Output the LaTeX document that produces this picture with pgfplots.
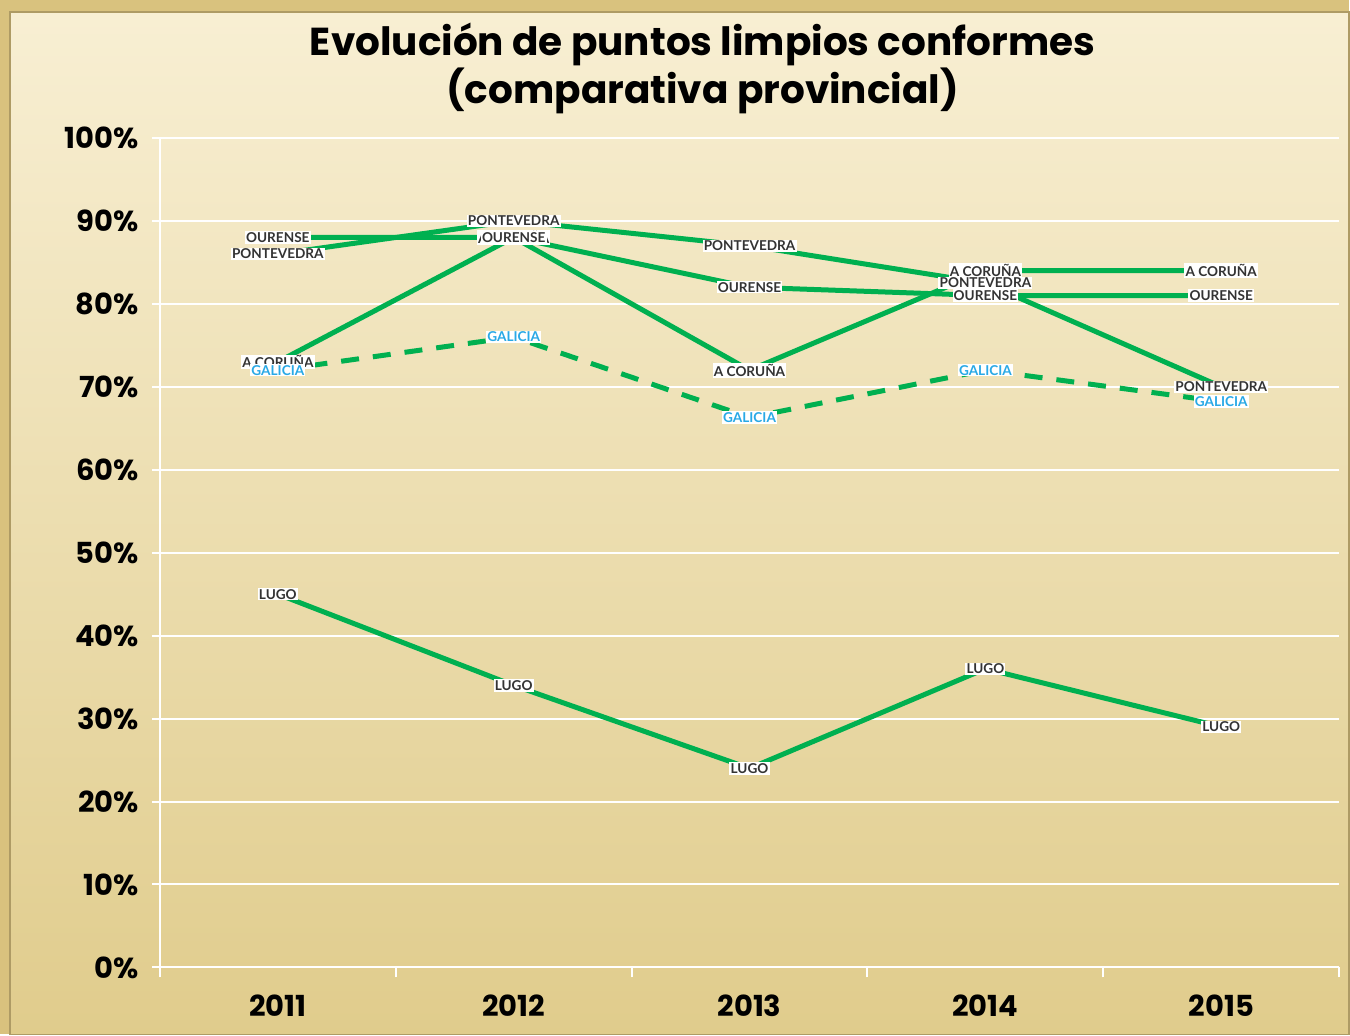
\documentclass[border=0pt]{standalone}
\usepackage{pgfplots}
\pgfplotsset{compat=1.18}
\usepackage{fontspec}
\setmainfont{Poppins}
\newfontfamily\lblfont{Lato}
\definecolor{linegreen}{HTML}{00B050}
\definecolor{galblue}{HTML}{29A9E6}
\definecolor{bgtop}{HTML}{F8EFD3}
\definecolor{bgbot}{HTML}{E0CC8C}
\definecolor{frame}{HTML}{D9C27E}
\pgfplotsset{prov/.style={linegreen, solid, line width=2.5pt, line join=round}}

\begin{document}
\begin{tikzpicture}
% background panel (1px = 0.5pt, axis box origin at px (160,968))
\fill[frame] (-80pt,-33.5pt) rectangle (595pt,484pt);
\shade[top color=bgtop, bottom color=bgbot, draw=frame!80!black, line width=0.8pt]
  (-75pt,-33.5pt) rectangle (595pt,478pt);
\begin{axis}[
  scale only axis, width=590pt, height=415pt,
  xmin=-0.5, xmax=4.5, ymin=0, ymax=100,
  xtick={0,1,2,3,4}, xticklabels={2011,2012,2013,2014,2015},
  minor xtick={-0.5,0.5,1.5,2.5,3.5,4.5},
  major x tick style={draw=none},
  minor tick length=5pt,
  ytick={0,10,...,100},
  yticklabel={\pgfmathprintnumber{\tick}\%},
  /pgf/number format/assume math mode=true,
  tick align=outside, major tick length=4pt,
  tick style={white, line width=1pt},
  axis x line*=bottom, axis y line*=left,
  axis line style={white, line width=1pt, -},
  ymajorgrids, grid style={white, line width=1pt},
  tick label style={font=\bfseries\fontsize{14.5}{16}\selectfont, text=black},
  yticklabel style={xshift=-3pt},
  xticklabel style={yshift=-6pt},
  clip=false,
  nodes near coords, point meta=explicit symbolic,
  every node near coord/.style={anchor=center, fill=white, inner sep=0.6pt,
    font=\lblfont\bfseries\fontsize{6.8}{7}\selectfont, text=black!80},
]
\addplot[prov] coordinates {(0,73) [A CORUÑA] (1,88) [A CORUÑA] (2,72) [A CORUÑA] (3,84) [A CORUÑA] (4,84) [A CORUÑA]};
\addplot[prov] coordinates {(0,88) [OURENSE] (1,88) [OURENSE] (2,82) [OURENSE] (3,81) [OURENSE] (4,81) [OURENSE]};
\addplot[prov] coordinates {(0,86) [PONTEVEDRA] (1,90) [PONTEVEDRA] (2,87) [PONTEVEDRA] (3,82.5) [PONTEVEDRA] (4,70) [PONTEVEDRA]};
\addplot[prov] coordinates {(0,45) [LUGO] (1,34) [LUGO] (2,24) [LUGO] (3,36) [LUGO] (4,29) [LUGO]};
\addplot[prov, dash pattern=on 9pt off 7pt,
  every node near coord/.append style={text=galblue}]
  coordinates {(0,72) [GALICIA] (1,76) [GALICIA] (2,66.3) [GALICIA] (3,72) [GALICIA] (4,68.2) [GALICIA]};
\end{axis}
\node[font=\bfseries\fontsize{19.5}{24}\selectfont, align=center] at (271.5pt,450pt)
  {Evolución de puntos limpios conformes\\(comparativa provincial)};
\end{tikzpicture}
\end{document}
